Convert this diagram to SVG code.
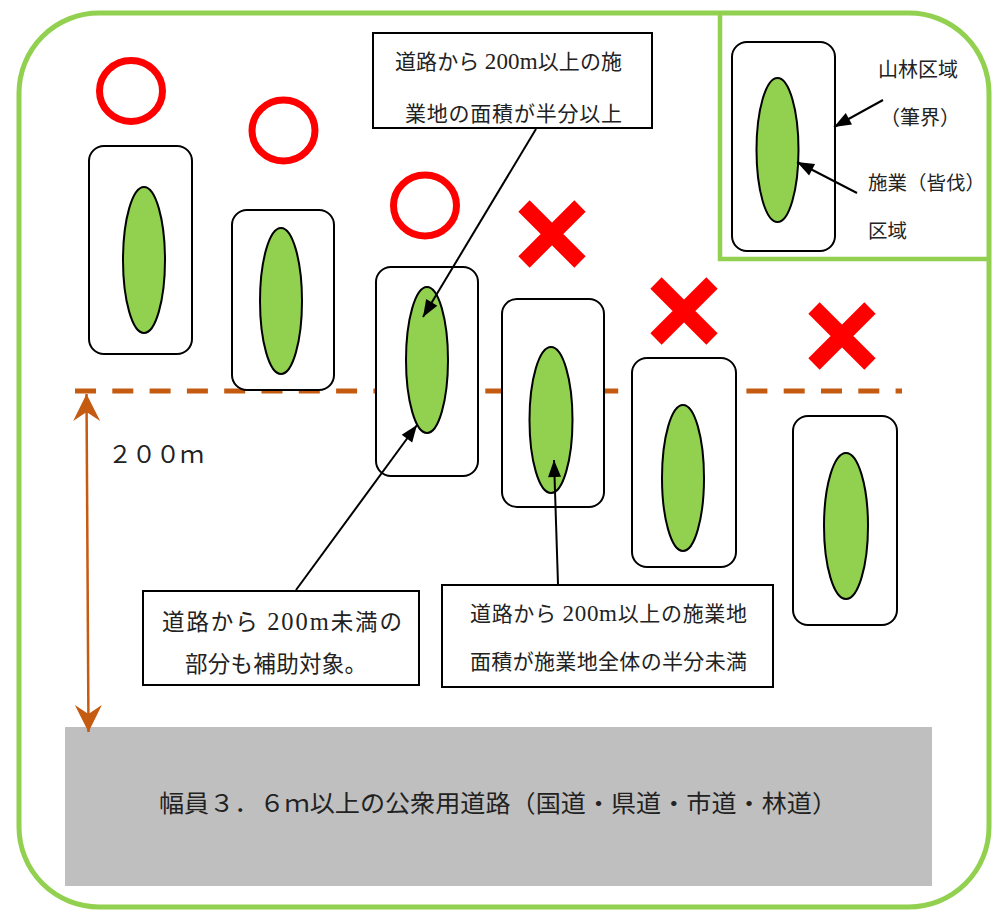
<svg xmlns="http://www.w3.org/2000/svg" width="1007" height="910" viewBox="0 0 1007 910">
<style>
.t{font-family:"Liberation Serif","Noto Sans CJK JP",serif;fill:#222}
.n{font-size:23px}
.site{fill:#fff;stroke:#000;stroke-width:2}
.work{fill:#92D050;stroke:#000;stroke-width:2}
.ok{fill:none;stroke:#FF0000;stroke-width:7}
.ng{stroke:#FF0000;stroke-width:16;fill:none}
.lbl{fill:#fff;stroke:#000;stroke-width:2}
.conn{stroke:#000;stroke-width:2;fill:none;marker-end:url(#ah)}
</style>
<defs>
<marker id="ah" markerUnits="userSpaceOnUse" markerWidth="20" markerHeight="16" viewBox="-18 -8 20 16" refX="0" refY="0" orient="auto">
<path d="M0,0 L-17,-6.5 L-17,6.5 Z" fill="#000"/>
</marker>
<marker id="oa" markerUnits="userSpaceOnUse" markerWidth="30" markerHeight="30" viewBox="-29 -15 30 30" refX="0" refY="0" orient="auto-start-reverse">
<path d="M0,0 L-27,-13.5 L-18,0 L-27,13.5 Z" fill="#C55A11"/>
</marker>
</defs>
<rect x="0" y="0" width="1007" height="910" fill="#fff"/>
<rect id="frame" x="19" y="13" width="970" height="894" rx="80" ry="80" fill="none" stroke="#92D050" stroke-width="5"/>
<g id="road">
<rect x="65" y="727" width="867" height="159" fill="#BFBFBF"/>
<text class="t" x="498" y="812" font-size="24" text-anchor="middle" textLength="678" lengthAdjust="spacingAndGlyphs">幅員３．６ｍ以上の公衆用道路（国道・県道・市道・林道）</text>
</g>
<g id="legend">
<path d="M720,13 V259 H989" fill="none" stroke="#92D050" stroke-width="4.5"/>
<rect class="site" x="732" y="42" width="103" height="209" rx="15"/>
<ellipse class="work" cx="777.5" cy="150" rx="21" ry="72"/>
<text class="t" x="878" y="77" font-size="20">山林区域</text>
<text class="t" x="880" y="125" font-size="20">（筆界）</text>
<text class="t" x="868" y="190" font-size="19.5">施業（皆伐）</text>
<text class="t" x="868" y="238" font-size="19.5">区域</text>
</g>
<g id="limit">
<line x1="75" y1="391" x2="902" y2="391" stroke="#C55A11" stroke-width="5" stroke-dasharray="21 16.3"/>
<line x1="86.5" y1="394" x2="88.5" y2="732" stroke="#C55A11" stroke-width="2.5" marker-start="url(#oa)" marker-end="url(#oa)"/>
<text class="t" x="108" y="463" font-size="24">２００ｍ</text>
</g>
<g id="site1">
<ellipse class="ok" cx="131" cy="91" rx="31.5" ry="30.5"/>
<rect class="site" x="89" y="146" width="103" height="208" rx="15"/>
<ellipse class="work" cx="144" cy="260" rx="21" ry="73"/>
</g>
<g id="site2">
<ellipse class="ok" cx="283.5" cy="130.5" rx="31.5" ry="30.5"/>
<rect class="site" x="232" y="210" width="102" height="180" rx="15"/>
<ellipse class="work" cx="281" cy="301" rx="21" ry="73"/>
</g>
<g id="site3">
<ellipse class="ok" cx="425" cy="205.5" rx="31.5" ry="30.5"/>
<rect class="site" x="376" y="267" width="102" height="209" rx="15"/>
<ellipse class="work" cx="427" cy="360" rx="21" ry="73"/>
</g>
<g id="site4">
<path class="ng" d="M524,206 L580,262 M580,206 L524,262"/>
<rect class="site" x="502" y="299" width="102" height="208" rx="15"/>
<ellipse class="work" cx="551" cy="420" rx="21.5" ry="73"/>
</g>
<g id="site5">
<path class="ng" d="M656,283 L712,339 M712,283 L656,339"/>
<rect class="site" x="632" y="358" width="104" height="209" rx="15"/>
<ellipse class="work" cx="683" cy="478" rx="21" ry="73"/>
</g>
<g id="site6">
<path class="ng" d="M814,308 L870,364 M870,308 L814,364"/>
<rect class="site" x="793" y="416" width="104" height="209" rx="15"/>
<ellipse class="work" cx="846" cy="526" rx="22" ry="73"/>
</g>
<g id="boxA">
<rect class="lbl" x="373" y="33" width="279" height="95"/>
<text class="t" x="395" y="69" font-size="21" textLength="227" lengthAdjust="spacing">道路から <tspan class="n">200m</tspan>以上の施</text>
<text class="t" x="405" y="121" font-size="21" textLength="217" lengthAdjust="spacing">業地の面積が半分以上</text>
</g>
<g id="boxB">
<rect class="lbl" x="143" y="591" width="276" height="94"/>
<text class="t" x="162" y="630" font-size="22.5" textLength="240" lengthAdjust="spacing">道路から <tspan font-size="24.5">200m</tspan>未満の</text>
<text class="t" x="185" y="672" font-size="22.5" textLength="182" lengthAdjust="spacing">部分も補助対象。</text>
</g>
<g id="boxC">
<rect class="lbl" x="442" y="585" width="331" height="102"/>
<text class="t" x="470" y="621" font-size="21" textLength="277" lengthAdjust="spacing">道路から <tspan class="n">200m</tspan>以上の施業地</text>
<text class="t" x="470" y="669" font-size="21" textLength="277" lengthAdjust="spacing">面積が施業地全体の半分未満</text>
</g>
<g id="connectors">
<line class="conn" x1="536" y1="129" x2="423" y2="317"/>
<line class="conn" x1="296" y1="590" x2="417" y2="425"/>
<line class="conn" x1="558" y1="584" x2="554" y2="460"/>
<line class="conn" x1="883" y1="100" x2="834" y2="127"/>
<line class="conn" x1="857" y1="193" x2="797" y2="162"/>
</g>
</svg>
